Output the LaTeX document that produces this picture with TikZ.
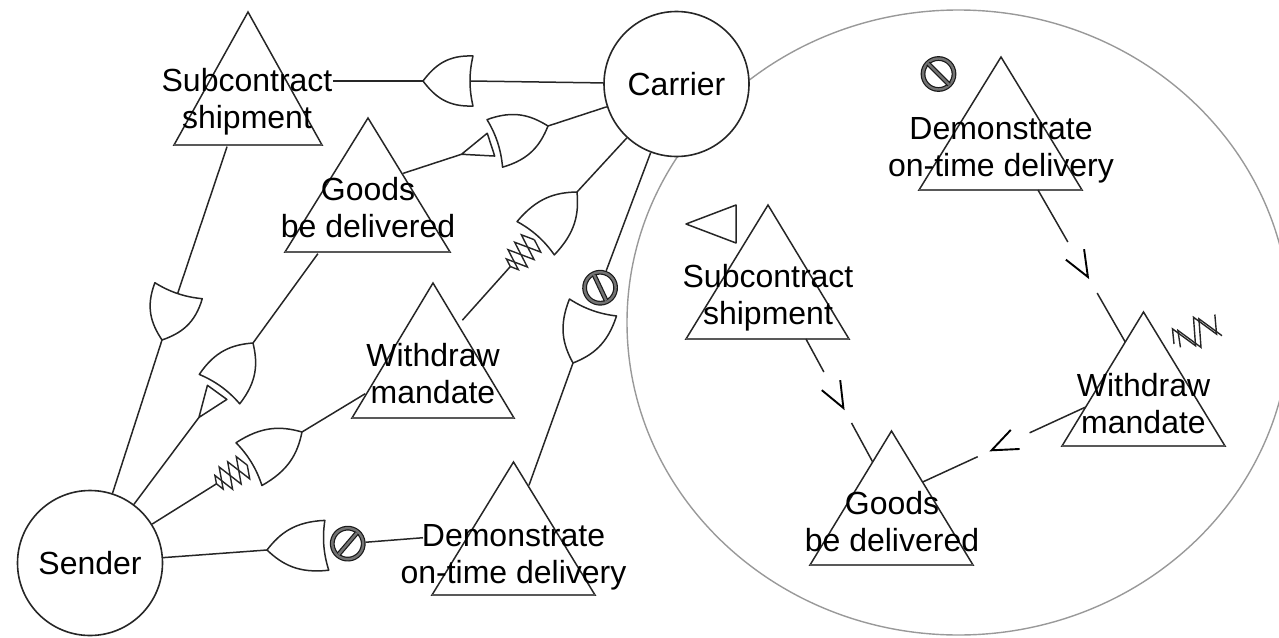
\documentclass[tikz,border=0pt]{standalone}
\usepackage{fontspec}
\setmainfont{Liberation Sans}
\usetikzlibrary{calc}
\tikzset{
  conn/.style={draw=black!85, line width=1.5pt},
  gateline/.style={draw=black!85, line width=1.5pt, line join=round},
  tri/.style={draw=black!85, line width=1.5pt},
  tribase/.style={draw=black!65, line width=2.4pt},
  agent/.style={circle, draw=black!85, line width=1.6pt, fill=white, minimum size=145pt, inner sep=0pt, font=\fontsize{32}{37}\selectfont},
  lbl/.style={align=center, inner sep=0pt, font=\fontsize{32}{37}\selectfont},
  ring/.style={draw=black!90, line width=1.2pt, double=black!55, double distance=2.4pt},
  hull/.style={draw=black!40, line width=1.4pt},
  tipline/.style={draw=black, line width=1.9pt},
  zig/.style={draw=black!85, line width=1.4pt, line join=miter},
}
\newcommand{\gateOR}[1]{%
  \draw[gateline] (0,0) .. controls ({0.24*#1},-16) and ({0.5*#1},-26) .. ({#1},-25)
    .. controls ({#1-4},-8) and ({#1-4},8) .. ({#1},25)
    .. controls ({0.5*#1},26) and ({0.24*#1},16) .. cycle;}
\newcommand{\decoTri}[1]{\draw[gateline] ({#1+4},-12) -- ({#1+35},0) -- ({#1+4},12) -- cycle;}
\newcommand{\decoZig}[1]{%
  \draw[zig] ({#1+2},0) -- ({#1+7},-13) -- ({#1+17},13) -- ({#1+27},-13) -- ({#1+35},8) -- ({#1+38},0);
  \draw[zig] ({#1+2},0) -- ({#1+7},13) -- ({#1+17},-13) -- ({#1+27},13) -- ({#1+35},-8) -- ({#1+38},0);}
\newcommand{\decoNo}[1]{%
  \draw[ring] ({#1},0) circle[radius=15.5pt];
  \draw[ring] ({#1-10},10) -- ({#1+10},-10);}
\newcommand{\gaparrow}[6]{% S, T, t1, tA, t2, name
  \draw[conn] (#1) -- ($(#1)!#3!(#2)$);
  \draw[conn] ($(#1)!#5!(#2)$) -- (#2);
  \coordinate (#6) at ($(#1)!#4!(#2)$);
  \draw[tipline] ($(#6)!28pt!22:(#1)$) -- (#6) -- ($(#6)!28pt!-22:(#1)$);}
\begin{document}
\begin{tikzpicture}[x=1pt, y=-1pt]
\useasboundingbox (0,0) rectangle (1279,637);

% big hull ellipse
\draw[hull] (958.5,322.5) ellipse [x radius=331.5pt, y radius=312.5pt];

% agents
\node[agent] (carrier) at (676.5,84) {Carrier};
\node[agent] (sender) at (90,563) {Sender};

% triangle corner coordinates
\coordinate (subL-a) at (248,12);     \coordinate (subL-bl) at (174,145);   \coordinate (subL-br) at (322,145);
\coordinate (goodsL-a) at (368,118);  \coordinate (goodsL-bl) at (285,252); \coordinate (goodsL-br) at (450,252);
\coordinate (withL-a) at (433,283);   \coordinate (withL-bl) at (352,418);  \coordinate (withL-br) at (514,418);
\coordinate (demB-a) at (513.5,462);  \coordinate (demB-bl) at (432,595);   \coordinate (demB-br) at (595,595);
\coordinate (demR-a) at (1001,57);    \coordinate (demR-bl) at (919,190);   \coordinate (demR-br) at (1082,190);
\coordinate (subR-a) at (768,205);    \coordinate (subR-bl) at (686,339);   \coordinate (subR-br) at (849,339);
\coordinate (withR-a) at (1143.5,312);\coordinate (withR-bl) at (1062,446); \coordinate (withR-br) at (1225,446);
\coordinate (goodsR-a) at (891.5,431);\coordinate (goodsR-bl) at (810,565); \coordinate (goodsR-br) at (973,565);

\foreach \t in {subL,goodsL,withL,demB,demR,subR,withR,goodsR}{
  \draw[tri] (\t-a) -- (\t-br) -- (\t-bl) -- cycle;
  \draw[tribase] (\t-bl) -- (\t-br);
}

% gates (local x axis: from tip towards back)
\begin{scope}[shift={(423,81)}, rotate=0]
  \gateOR{50}
  \coordinate (gA-tip) at (0,0); \coordinate (gA-back) at (47,0); \coordinate (gA-far) at (-90.5,0);
\end{scope}
\begin{scope}[shift={(548,126)}, rotate=-161.9]
  \gateOR{56} \decoTri{56}
  \coordinate (gB-tip) at (0,0); \coordinate (gB-end) at (91,0); \coordinate (gB-far) at (152.4,0);
\end{scope}
\begin{scope}[shift={(162,340)}, rotate=71.4]
  \gateOR{52}
  \coordinate (gC-tip) at (0,0); \coordinate (gC-back) at (49,0); \coordinate (gC-far) at (204,0);
\end{scope}
\begin{scope}[shift={(253,343)}, rotate=-126]
  \gateOR{57} \decoTri{57}
  \coordinate (gD-tip) at (0,0); \coordinate (gD-end) at (92,0); \coordinate (gD-far) at (-110.4,0);
\end{scope}
\begin{scope}[shift={(577,192)}, rotate=-131.8]
  \gateOR{62} \decoZig{62}
  \coordinate (gE-tip) at (0,0); \coordinate (gE-end) at (100,0); \coordinate (gE-far) at (172,0);
\end{scope}
\begin{scope}[shift={(302,432)}, rotate=-148.8]
  \gateOR{62} \decoZig{62}
  \coordinate (gF-tip) at (0,0); \coordinate (gF-end) at (100,0); \coordinate (gF-far) at (-74,0);
\end{scope}
\begin{scope}[shift={(267,550)}, rotate=4.5]
  \gateOR{60} \decoNo{81}
  \coordinate (gG-tip) at (0,0); \coordinate (gG-end) at (99,0); \coordinate (gG-far) at (156.5,0);
\end{scope}
\begin{scope}[shift={(573,363)}, rotate=70.2]
  \gateOR{59} \decoNo{80}
  \coordinate (gH-tip) at (0,0); \coordinate (gH-end) at (98,0); \coordinate (gH-far) at (-130,0);
\end{scope}

% left connectors
\draw[conn] (gA-back) -- (carrier);  \draw[conn] (gA-tip) -- (gA-far);
\draw[conn] (carrier) -- (gB-tip);   \draw[conn] (gB-end) -- (gB-far);
\draw[conn] (carrier) -- (gE-tip);   \draw[conn] (gE-end) -- (gE-far);
\draw[conn] (gH-end) -- (carrier);   \draw[conn] (gH-tip) -- (gH-far);
\draw[conn] (sender) -- (gC-tip);    \draw[conn] (gC-back) -- (gC-far);
\draw[conn] (gD-end) -- (sender);    \draw[conn] (gD-tip) -- (gD-far);
\draw[conn] (gF-end) -- (sender);    \draw[conn] (gF-tip) -- (gF-far);
\draw[conn] (sender) -- (gG-tip);    \draw[conn] (gG-end) -- (gG-far);

% right connectors
\coordinate (aS) at ($(demR-bl)!0.73!(demR-br)$);
\coordinate (aT) at ($(withR-a)!0.224!(withR-bl)$);
\coordinate (bS) at ($(subR-bl)!0.736!(subR-br)$);
\coordinate (bT) at ($(goodsR-a)!0.231!(goodsR-bl)$);
\coordinate (cS) at ($(withR-a)!0.709!(withR-bl)$);
\coordinate (cT) at ($(goodsR-a)!0.381!(goodsR-br)$);
\gaparrow{aS}{aT}{0.342}{0.572}{0.678}{aA}
\gaparrow{bS}{bT}{0.268}{0.561}{0.683}{bA}
\gaparrow{cS}{cT}{0.344}{0.577}{0.662}{cA}

% right standalone symbols
\draw[ring] (938.5,74) circle[radius=15.5pt];
\draw[ring] (928,63.5) -- (949,84.5);
\draw[gateline] (686,224) -- (736,205) -- (736,243) -- cycle;
\begin{scope}[shift={(1174,344)}, rotate=29]
  \draw[zig] (0,0) -- (6,-14) -- (18,12) -- (30,-14) -- (42,12) -- (50,-6);
  \draw[zig] (4,6) -- (10,-10) -- (22,16) -- (34,-10) -- (46,16);
\end{scope}

% labels
\node[lbl] (subLt) at (247,102.2) {Subcontract\\shipment};
\node[lbl] (goodsLt) at (368,207.7) {Goods\\be delivered};
\node[lbl] (withLt) at (433,373.4) {Withdraw\\mandate};
\node[lbl] (demBt) at (513.5,557) {Demonstrate\\on-time delivery};
\node[lbl] (demRt) at (1001,150.5) {Demonstrate\\on-time delivery};
\node[lbl] (subRt) at (768,298.2) {Subcontract\\shipment};
\node[lbl] (withRt) at (1143.5,403.6) {Withdraw\\mandate};
\node[lbl] (goodsRt) at (892,522) {Goods\\be delivered};
\end{tikzpicture}
\end{document}
